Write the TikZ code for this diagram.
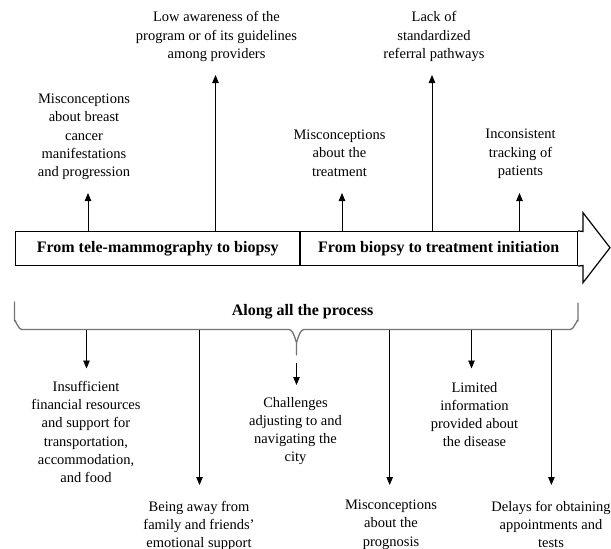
\documentclass[tikz,border=0pt]{standalone}
\usepackage{fontspec}
\setmainfont{Liberation Serif}
\usetikzlibrary{arrows.meta}
\begin{document}
\begin{tikzpicture}[x=1pt,y=-1pt,
  lbl/.style={align=center,inner sep=0pt,font=\fontsize{14.5}{18.3}\selectfont},
  arr/.style={line width=0.8pt,-{Triangle[width=6.5pt,length=8pt]}},
  stage/.style={draw,line width=1.2pt,minimum height=34pt,inner sep=0pt,font=\bfseries\fontsize{16}{19}\selectfont},
  bracestyle/.style={draw=black!55,line width=1.3pt,line cap=round,line join=round}]
\useasboundingbox (0,0) rectangle (611,549);

% stage boxes
\node[stage,minimum width=284.5pt] (boxL) at (157.75,248.5) {From tele-mammography to biopsy};
\node[stage,minimum width=277.5pt] (boxR) at (438.75,248.5) {From biopsy to treatment initiation};
\draw[line width=1.2pt,line join=miter] (boxR.north east) -- (583,231.5) -- (583,212.7) -- (610,247.7) -- (583,282.7) -- (583,265.5) -- (boxR.south east);

% top labels
\node[lbl] (t1) at (84,137) {Misconceptions\\about breast\\cancer\\manifestations\\and progression};
\node[lbl] (t2) at (216.5,36.5) {Low awareness of the\\program or of its guidelines\\among providers};
\node[lbl] (t3) at (339.5,153) {Misconceptions\\about the\\treatment};
\node[lbl] (t4) at (434,36.5) {Lack of\\standardized\\referral pathways};
\node[lbl] (t5) at (520.5,154) {Inconsistent\\tracking of\\patients};

\coordinate (u1) at (88,193);
\coordinate (u2) at (215.5,75);
\coordinate (u3) at (342,193);
\coordinate (u4) at (432,75);
\coordinate (u5) at (519.5,193);
\draw[arr] (boxL.north -| u1) -- (u1);
\draw[arr] (boxL.north -| u2) -- (u2);
\draw[arr] (boxR.north -| u3) -- (u3);
\draw[arr] (boxR.north -| u4) -- (u4);
\draw[arr] (boxR.north -| u5) -- (u5);

% brace
\node[font=\bfseries\fontsize{16}{19}\selectfont,anchor=base,inner sep=0pt] (along) at (302.5,315) {Along all the process};
\draw[bracestyle] (14.5,302) -- (14.5,321) to[out=90,in=180] (22,329.5) -- (289,329.5)
  to[out=0,in=-90] (296.5,341) -- (296.5,355);
\draw[bracestyle] (296.5,341) to[out=-90,in=180] (304,329.5) -- (570,329.5)
  to[out=0,in=90] (578,321) -- (578,303);
\coordinate (brl) at (22,329.5);

% bottom labels
\node[lbl] (b1) at (86,432) {Insufficient\\financial resources\\and support for\\transportation,\\accommodation,\\and food};
\node[lbl] (b2) at (199,526) {Being away from\\family and friends’\\emotional support};
\node[lbl] (b3) at (295.5,431) {Challenges\\adjusting to and\\navigating the\\city};
\node[lbl] (b4) at (391,524.5) {Misconceptions\\about the\\prognosis};
\node[lbl] (b5) at (474.5,414.5) {Limited\\information\\provided about\\the disease};
\node[lbl] (b6) at (551,524.5) {Delays for obtaining\\appointments and\\tests};

\coordinate (d1) at (86.5,368.5);
\coordinate (d2) at (199.5,485);
\coordinate (d3s) at (296.5,363);
\coordinate (d3) at (296.5,385);
\coordinate (d4) at (389.7,485);
\coordinate (d5) at (471.5,368.5);
\coordinate (d6) at (551.4,485);
\draw[arr] (brl -| d1) -- (d1);
\draw[arr] (brl -| d2) -- (d2);
\draw[arr] (d3s) -- (d3);
\draw[arr] (brl -| d4) -- (d4);
\draw[arr] (brl -| d5) -- (d5);
\draw[arr] (brl -| d6) -- (d6);
\end{tikzpicture}
\end{document}
